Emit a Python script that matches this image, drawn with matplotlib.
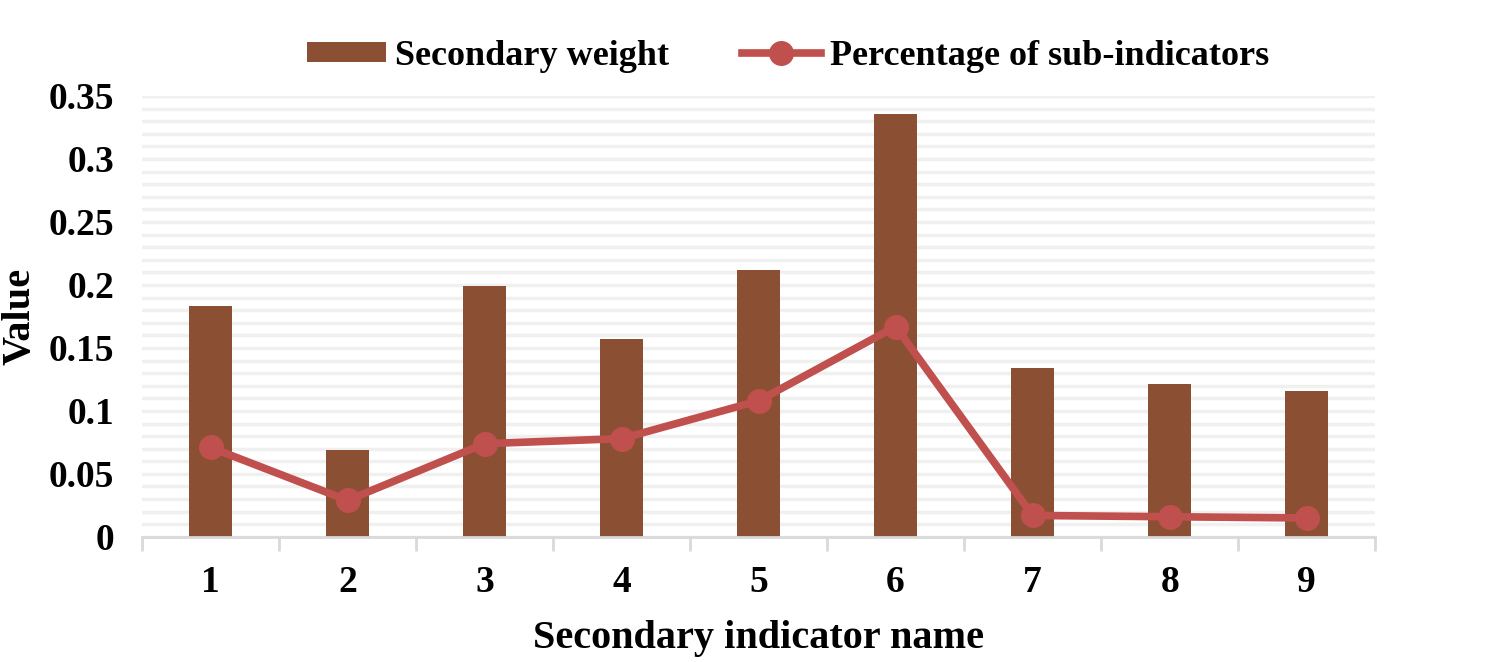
import numpy as np
import matplotlib
matplotlib.use("Agg")
import matplotlib.pyplot as plt
from matplotlib.ticker import MultipleLocator

categories = ["1", "2", "3", "4", "5", "6", "7", "8", "9"]
secondary_weight = [0.183, 0.069, 0.199, 0.157, 0.212, 0.336, 0.134, 0.121, 0.116]
sub_indicator_pct = [0.071, 0.029, 0.074, 0.078, 0.108, 0.167, 0.017, 0.016, 0.015]
y_ticks = [0, 0.05, 0.1, 0.15, 0.2, 0.25, 0.3, 0.35]
y_tick_labels = ["0", "0.05", "0.1", "0.15", "0.2", "0.25", "0.3", "0.35"]

plt.rcParams['font.family'] = ['Liberation Serif', 'DejaVu Serif']
plt.rcParams['font.weight'] = 'bold'

fig = plt.figure(figsize=(14.98, 6.62), dpi=100)
ax = fig.add_axes([0.0948, 0.189, 0.918 - 0.0948, 0.666])

x = np.arange(len(categories))
bars = ax.bar(x, secondary_weight, width=0.31, color='#8B4F33', label='Secondary weight', zorder=2)
line, = ax.plot(x, sub_indicator_pct, color='#C0504D', linewidth=5.5, marker='o', markersize=17,
                label='Percentage of sub-indicators', zorder=3)

ax.set_xlim(-0.5, len(categories) - 0.5)
ax.set_ylim(0, 0.35)

# light horizontal gridlines every 0.01
ax.yaxis.set_minor_locator(MultipleLocator(0.01))
ax.set_yticks(y_ticks)
ax.set_yticklabels(y_tick_labels)
ax.grid(True, which='both', axis='y', color='#F0F0F0', linewidth=2.5, zorder=0)
ax.set_axisbelow(True)
ax.tick_params(axis='y', which='both', length=0, labelsize=27, pad=20)

# category ticks sit between the groups
ax.set_xticks(x)
ax.set_xticklabels(categories)
ax.set_xticks(np.arange(-0.5, len(categories)), minor=True)
ax.tick_params(axis='x', which='major', length=0, labelsize=27, pad=20)
ax.tick_params(axis='x', which='minor', length=10, width=2, color='#D9D9D9')

for side in ['top', 'right', 'left']:
    ax.spines[side].set_visible(False)
ax.spines['bottom'].set_color('#D9D9D9')
ax.spines['bottom'].set_linewidth(2)

for lbl in ax.get_xticklabels() + ax.get_yticklabels():
    lbl.set_fontweight('bold')

ax.set_xlabel('Secondary indicator name', fontsize=29, fontweight='bold', labelpad=15)
ax.set_ylabel('Value', fontsize=29, fontweight='bold')
ax.yaxis.set_label_coords(-0.084, 0.5)

ax.legend([bars, line], ['Secondary weight', 'Percentage of sub-indicators'],
          loc='center', bbox_to_anchor=(0.524, 1.09), ncol=2, frameon=False,
          handlelength=2.2, handleheight=0.5, handletextpad=0.25, columnspacing=2.0,
          prop={'weight': 'bold', 'size': 26})

fig.savefig('out.png', dpi=100)
